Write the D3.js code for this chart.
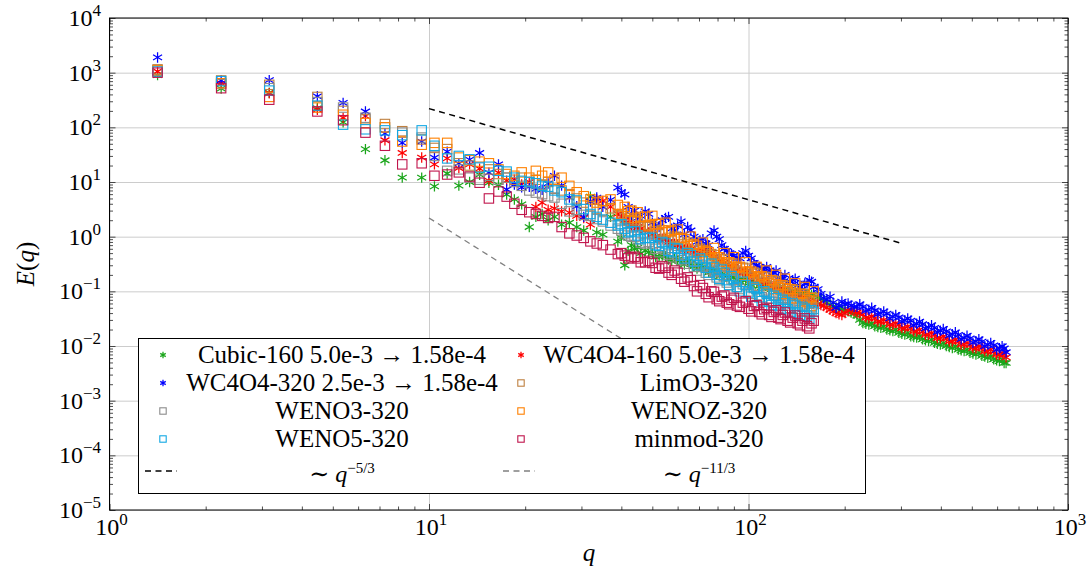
<!DOCTYPE html>
<html>
<head>
<meta charset="utf-8">
<script src="https://cdn.jsdelivr.net/npm/d3@7"></script>
<style>
  body { margin: 0; background: #fff; }
  svg text { font-family: "Liberation Serif", "DejaVu Serif", "Noto Serif", "Times New Roman", Times, serif; fill: #000; }
</style>
</head>
<body>
<svg id="chart" width="1089" height="571"></svg>
<script>
// wavenumber shells
const qLow = [1.414, 2.236, 3.162, 4.472, 5.385, 6.325, 7.28, 8.246, 9.487];
const qMid = [10.4, 11.4, 12.4, 13.4, 14.4, 15.4, 16.5, 17.5, 18.5, 19.5, 20.6, 21.6, 22.6, 23.6, 24.7, 26, 27.5, 29, 30.5, 32, 33.5, 35, 37, 39, 41, 43, 45, 47.5,
  50, 52.5, 55, 57.5, 60, 63, 66, 69, 72, 75, 78, 81, 84, 87, 90, 94, 98, 102, 106, 110, 114, 118, 122, 126, 130, 135, 140, 145, 150, 155, 160];
const qTail = [165, 172, 180, 188, 196, 205, 214, 223, 233, 243, 254, 265, 277, 289, 302, 315, 329, 343, 358, 374, 390, 407, 425, 444, 463, 483, 504, 526, 549, 573, 598, 622, 640];
// interleaved shells of the dense part
const qMid2 = [40, 42, 44, 46, 48.7, 51.2, 53.7, 56.2, 58.7, 61.5, 64.5, 67.5, 70.5, 73.5, 76.5, 79.5, 82.5, 85.5, 88.5, 92,
  96, 100, 104, 108, 112, 116, 120, 124, 128, 132.5, 137.5, 142.5, 147.5, 152.5, 157.5];
const qTail2 = [168.5, 176, 184, 192, 200.5, 209.5, 218.5, 228, 238, 248.5, 259.5, 271, 283, 295.5, 308.5, 322, 336, 350.5, 366, 382,
  398.5, 416, 434.5, 453.5, 473, 493.5, 515, 537.5, 561, 585.5, 610, 631];

// E(q) (on qLow + qMid + qTail, then on qMid2 + qTail2)
const cubic160 = [900, 510, 430, 225, 124, 40, 25, 12, 12,
  8.3, 14.3, 8.6, 10, 13.6, 9.7, 8.9, 5.9, 4.8, 3.9, 1.5, 2.3, 2.6, 2.0, 2.3, 1.66, 1.8, 1.5, 1.3, 5.4, 1.2, 1.09, 2.3, 0.81, 0.3, 0.7, 0.63, 0.55,
  0.5, 0.43, 0.44, 0.36, 0.38, 0.31, 0.32, 0.26, 0.28, 0.22, 0.24, 0.19, 0.2, 0.17, 0.18, 0.15, 0.16, 0.13, 0.145, 0.12, 0.13, 0.11, 0.12, 0.1, 0.108, 0.092, 0.1, 0.086, 0.094, 0.08, 0.086,
  0.078, 0.068, 0.056, 0.05, 0.046, 0.043, 0.039, 0.030, 0.0255, 0.026, 0.0222, 0.0229, 0.0193, 0.0200, 0.0168, 0.0174, 0.0146, 0.0151, 0.0127, 0.0131, 0.0110, 0.0114, 0.0096, 0.0099, 0.0083, 0.0086, 0.0073, 0.0075, 0.0064, 0.0065, 0.0055, 0.0057, 0.0049];
const cubic160b = [0.95, 0.55, 0.6, 0.5, 0.52, 0.43, 0.45, 0.38, 0.4, 0.33, 0.35, 0.29, 0.3, 0.25, 0.26, 0.21, 0.22, 0.185, 0.19, 0.16,
  0.165, 0.14, 0.145, 0.125, 0.13, 0.115, 0.12, 0.105, 0.11, 0.097, 0.1, 0.09, 0.093, 0.084, 0.087,
  0.073, 0.062, 0.053, 0.048, 0.045, 0.041, 0.036, 0.0264, 0.0247, 0.023, 0.0215, 0.02, 0.0187, 0.0174, 0.0162, 0.0151, 0.0142, 0.0132, 0.0123, 0.0114,
  0.0106, 0.01, 0.0092, 0.0086, 0.0081, 0.0075, 0.007, 0.0066, 0.0061, 0.0057, 0.0053, 0.0049];
const wc4o4_160 = [1050, 640, 420, 210, 150, 160, 58, 34, 28,
  21, 27, 18, 21, 17.5, 10.6, 14.8, 10.6, 11, 9, 10, 3.5, 4.2, 3.1, 3.3, 2.9, 2.75, 2.4, 2.2, 1.66, 4.8, 4.5, 3.5, 2.6, 2.0, 1.6, 1.5, 1.3,
  1.1, 0.9, 0.9, 0.72, 0.72, 0.58, 0.6, 0.48, 0.55, 0.53, 0.42, 0.36, 0.34, 0.29, 0.28, 0.23, 0.23, 0.19, 0.19, 0.155, 0.14, 0.125, 0.115, 0.105, 0.095, 0.088, 0.08, 0.074, 0.069, 0.065, 0.06,
  0.058, 0.054, 0.046, 0.04, 0.037, 0.045, 0.043, 0.040, 0.033, 0.035, 0.028, 0.030, 0.0245, 0.0262, 0.0213, 0.0229, 0.0185, 0.0199, 0.0161, 0.0173, 0.0140, 0.0150, 0.0121, 0.0131, 0.0106, 0.0114, 0.0092, 0.0099, 0.0080, 0.0086, 0.0070, 0.0075, 0.0062];
const wc4o4_160b = [2.3, 1.8, 1.55, 1.4, 1.2, 1.0, 0.92, 0.8, 0.74, 0.64, 0.6, 0.52, 0.5, 0.58, 0.5, 0.4, 0.35, 0.31, 0.28, 0.25,
  0.22, 0.2, 0.18, 0.16, 0.145, 0.13, 0.12, 0.108, 0.098, 0.09, 0.082, 0.076, 0.071, 0.067, 0.063,
  0.056, 0.05, 0.043, 0.038, 0.04, 0.046, 0.041, 0.0374, 0.0322, 0.0324, 0.0278, 0.0282, 0.0243, 0.0245, 0.0211, 0.0213, 0.0183, 0.0186, 0.016, 0.0161,
  0.0139, 0.014, 0.0121, 0.0123, 0.0106, 0.0106, 0.0091, 0.0093, 0.008, 0.008, 0.0069, 0.0071];
const wc4o4_320 = [1900, 720, 730, 370, 280, 195, 77, 52, 55,
  28, 36, 22, 25.7, 34, 14.8, 21, 7.3, 9, 8, 8.2, 7.5, 7.2, 9.4, 13, 8.6, 5.2, 3.6, 2.3, 4.4, 5.2, 3.5, 4.7, 7.9, 5.9, 2.5, 2.2, 2.9,
  1.8, 1.5, 2.2, 1.4, 1.6, 1.1, 1.3, 0.8, 0.9, 0.7, 1.3, 0.9, 0.6, 0.5, 0.45, 0.4, 0.55, 0.4, 0.3, 0.26, 0.28, 0.2, 0.24, 0.17, 0.2, 0.15, 0.17, 0.12, 0.14, 0.16, 0.12,
  0.11, 0.075, 0.08, 0.05, 0.065, 0.06, 0.052, 0.058, 0.044, 0.050, 0.038, 0.043, 0.032, 0.037, 0.028, 0.032, 0.024, 0.028, 0.021, 0.024, 0.018, 0.0205, 0.0155, 0.0178, 0.0133, 0.0154, 0.0115, 0.0133, 0.0099, 0.0114, 0.0085, 0.0099, 0.0077];
const wc4o4_320b = [6.5, 3.5, 3.0, 2.4, 2.6, 1.6, 2.0, 2.3, 1.3, 1.9, 1.5, 1.0, 0.85, 0.75, 1.15, 1.0, 0.7, 0.55, 0.48, 0.4,
  0.5, 0.45, 0.33, 0.28, 0.25, 0.24, 0.22, 0.18, 0.17, 0.14, 0.16, 0.13, 0.11, 0.14, 0.15,
  0.09, 0.07, 0.062, 0.055, 0.058, 0.055, 0.052, 0.052, 0.046, 0.045, 0.040, 0.039, 0.0345, 0.0335, 0.0296, 0.029, 0.0255, 0.025, 0.022, 0.0215,
  0.019, 0.0186, 0.0164, 0.016, 0.0141, 0.0138, 0.0122, 0.012, 0.0106, 0.0103, 0.0091, 0.009];
const limo3_320 = [1150, 720, 600, 360, 200, 140, 115, 85, 60,
  42, 40, 22, 20, 19, 17, 14, 12, 11, 12, 10, 11, 9, 10, 7.5, 7, 6, 5, 4.2, 3.6, 3.2, 3.0, 3.3, 2.5, 2.2, 1.9, 1.9, 1.5,
  1.5, 1.1, 1.2, 0.85, 0.95, 0.65, 0.72, 0.5, 0.56, 0.4, 0.46, 0.32, 0.38, 0.27, 0.32, 0.22, 0.26, 0.18, 0.21, 0.15, 0.18, 0.125, 0.15, 0.105, 0.125, 0.088, 0.105, 0.074, 0.088, 0.063, 0.075];
const limo3_320b = [2.4, 2.0, 2.05, 1.6, 1.65, 1.25, 1.3, 0.95, 1.0, 0.72, 0.78, 0.56, 0.6, 0.44, 0.48, 0.35, 0.39, 0.29, 0.32, 0.24,
  0.27, 0.2, 0.22, 0.165, 0.185, 0.14, 0.155, 0.115, 0.13, 0.097, 0.108, 0.082, 0.09, 0.07, 0.077];
const weno3_320 = [1100, 620, 520, 290, 230, 150, 100, 80, 65,
  30, 16, 17, 12, 11, 13, 11, 12, 10, 8.5, 7, 6.4, 6, 5.5, 5.2, 4, 2.9, 3.1, 2.5, 2.4, 2.1, 1.9, 1.6, 1.4, 1.15, 1.0, 0.9, 0.75,
  0.75, 0.52, 0.58, 0.42, 0.46, 0.32, 0.36, 0.24, 0.28, 0.2, 0.23, 0.16, 0.19, 0.13, 0.16, 0.11, 0.13, 0.09, 0.11, 0.078, 0.095, 0.067, 0.082, 0.058, 0.072, 0.05, 0.062, 0.045, 0.055, 0.04, 0.048];
const weno3_320b = [1.3, 1.05, 1.0, 0.78, 0.8, 0.6, 0.64, 0.47, 0.5, 0.37, 0.4, 0.28, 0.31, 0.22, 0.25, 0.18, 0.2, 0.145, 0.165, 0.12,
  0.135, 0.1, 0.115, 0.085, 0.1, 0.073, 0.087, 0.063, 0.076, 0.055, 0.066, 0.048, 0.058, 0.043, 0.051];
const wenoz_320 = [1100, 640, 360, 230, 170, 120, 100, 55, 48,
  52, 52, 28, 25, 23.6, 22, 17, 14, 13, 15, 12, 16, 13, 15, 11, 12, 8.5, 6.5, 5.5, 4.8, 4.2, 4.5, 4.8, 3.8, 3.5, 3.0, 2.8, 2.3,
  2.4, 1.7, 1.8, 1.25, 1.35, 0.9, 1.0, 0.68, 0.78, 0.52, 0.62, 0.42, 0.5, 0.34, 0.42, 0.28, 0.34, 0.23, 0.28, 0.19, 0.24, 0.16, 0.2, 0.13, 0.17, 0.11, 0.14, 0.09, 0.12, 0.075, 0.1];
const wenoz_320b = [2.6, 2.9, 2.2, 2.3, 1.6, 1.7, 1.2, 1.3, 0.9, 0.95, 0.68, 0.72, 0.5, 0.55, 0.4, 0.42, 0.31, 0.34, 0.25, 0.27,
  0.2, 0.22, 0.165, 0.18, 0.135, 0.145, 0.11, 0.12, 0.09, 0.1, 0.075, 0.083, 0.063, 0.068, 0.054];
const weno5_320 = [1050, 700, 470, 250, 112, 92, 88, 72, 88,
  46, 27, 30, 26, 18.4, 19, 16, 15.5, 12, 10.5, 10, 9.5, 8.5, 8.2, 7, 6.5, 4.8, 4.6, 3.2, 2.6, 2.3, 2.05, 1.8, 1.6, 1.4, 1.25, 1.05, 0.95,
  0.95, 0.68, 0.75, 0.52, 0.6, 0.4, 0.46, 0.3, 0.36, 0.22, 0.28, 0.17, 0.22, 0.13, 0.17, 0.1, 0.13, 0.08, 0.11, 0.066, 0.09, 0.056, 0.075, 0.048, 0.064, 0.042, 0.055, 0.037, 0.048, 0.032, 0.042];
const weno5_320b = [1.7, 1.2, 1.25, 0.9, 0.95, 0.7, 0.8, 0.55, 0.62, 0.45, 0.5, 0.35, 0.4, 0.27, 0.32, 0.2, 0.25, 0.16, 0.19, 0.12,
  0.15, 0.095, 0.12, 0.078, 0.1, 0.064, 0.083, 0.055, 0.07, 0.047, 0.06, 0.041, 0.052, 0.036, 0.045];
const minmod_320 = [1000, 520, 320, 195, 135, 80, 46, 21, 22,
  13, 13.7, 15, 12.6, 9.7, 5, 6.7, 5.4, 4, 3.1, 2.8, 2.6, 2.4, 2.2, 2.3, 1.5, 1.15, 1.05, 0.95, 0.82, 0.75, 0.7, 0.58, 0.48, 0.45, 0.42, 0.4, 0.34,
  0.33, 0.26, 0.27, 0.2, 0.22, 0.15, 0.16, 0.1, 0.115, 0.078, 0.098, 0.066, 0.084, 0.058, 0.076, 0.052, 0.066, 0.043, 0.056, 0.038, 0.05, 0.034, 0.045, 0.031, 0.041, 0.027, 0.036, 0.024, 0.032, 0.021, 0.029];
const minmod_320b = [0.5, 0.4, 0.43, 0.34, 0.36, 0.27, 0.29, 0.22, 0.24, 0.17, 0.18, 0.125, 0.13, 0.09, 0.1, 0.072, 0.08, 0.062, 0.07, 0.055,
  0.062, 0.048, 0.054, 0.042, 0.047, 0.037, 0.042, 0.033, 0.037, 0.029, 0.033, 0.026, 0.029, 0.023, 0.026];

// reference slopes: [q, E] end points
const slope53 = [[10, 220], [300, 0.76]];
const slope113 = [[10, 2.2], [200, 3.7e-5]];

const xTickExp = [0, 1, 2, 3];
const yTickExp = [-5, -4, -3, -2, -1, 0, 1, 2, 3, 4];

const qStar = qLow.concat(qMid, qTail), qStarB = qMid2.concat(qTail2);
const qSquare = qLow.concat(qMid), qSquareB = qMid2;

const series = [
  { label: 'Cubic-160 5.0e-3 \u2192 1.58e-4', color: '#1aa51a', mark: 'star', q: [qStar, qStarB], E: [cubic160, cubic160b] },
  { label: 'WC4O4-160 5.0e-3 \u2192 1.58e-4', color: '#ff0000', mark: 'star', q: [qStar, qStarB], E: [wc4o4_160, wc4o4_160b] },
  { label: 'WC4O4-320 2.5e-3 \u2192 1.58e-4', color: '#0000ff', mark: 'star', q: [qStar, qStarB], E: [wc4o4_320, wc4o4_320b] },
  { label: 'LimO3-320', color: '#bf8040', mark: 'square', q: [qSquare, qSquareB], E: [limo3_320, limo3_320b] },
  { label: 'WENO3-320', color: '#8c8c8c', mark: 'square', q: [qSquare, qSquareB], E: [weno3_320, weno3_320b] },
  { label: 'WENOZ-320', color: '#ff8000', mark: 'square', q: [qSquare, qSquareB], E: [wenoz_320, wenoz_320b] },
  { label: 'WENO5-320', color: '#12a8e4', mark: 'square', q: [qSquare, qSquareB], E: [weno5_320, weno5_320b] },
  { label: 'minmod-320', color: '#c0144c', mark: 'square', q: [qSquare, qSquareB], E: [minmod_320, minmod_320b] },
];

const svg = d3.select('#chart');
const pL = 109.5, pR = 1068, pT = 18, pB = 510;

const x = d3.scaleLog().domain([1, 1000]).range([pL, pR]);
const y = d3.scaleLog().domain([1e-5, 1e4]).range([pB, pT]);

const minorX = [], minorY = [];
for (let e = 0; e < 3; e++) for (let k = 2; k < 10; k++) minorX.push(k * Math.pow(10, e));
for (let e = -5; e < 4; e++) for (let k = 2; k < 10; k++) minorY.push(k * Math.pow(10, e));
const majorX = xTickExp.map(e => Math.pow(10, e));
const majorY = yTickExp.map(e => Math.pow(10, e));

// grid
svg.append('g')
  .attr('transform', `translate(0,${pB})`)
  .call(d3.axisBottom(x).tickValues(majorX).tickSize(-(pB - pT)).tickFormat(''))
  .call(g => g.select('.domain').remove())
  .call(g => g.selectAll('line').attr('stroke', '#cccccc').attr('stroke-width', 1));
svg.append('g')
  .attr('transform', `translate(${pL},0)`)
  .call(d3.axisLeft(y).tickValues(majorY).tickSize(-(pR - pL)).tickFormat(''))
  .call(g => g.select('.domain').remove())
  .call(g => g.selectAll('line').attr('stroke', '#cccccc').attr('stroke-width', 1));

// reference slopes
const line = d3.line().x(d => x(d[0])).y(d => y(d[1]));
svg.append('path').datum(slope53).attr('d', line)
  .attr('fill', 'none').attr('stroke', '#000').attr('stroke-width', 1.5).attr('stroke-dasharray', '6,4.5');
svg.append('path').datum(slope113).attr('d', line)
  .attr('fill', 'none').attr('stroke', '#808080').attr('stroke-width', 1.3).attr('stroke-dasharray', '6,4.5');

// markers
const c30 = Math.cos(Math.PI / 6), s30 = 0.5;
function starPath(r) {
  return `M0,${-r}L0,${r}M${-r * c30},${-r * s30}L${r * c30},${r * s30}M${-r * c30},${r * s30}L${r * c30},${-r * s30}`;
}
function drawMark(g, mark, color, r) {
  if (mark === 'star') {
    g.append('path').attr('d', starPath(r)).attr('stroke', color).attr('stroke-width', 1.25).attr('fill', 'none');
  } else {
    g.append('rect').attr('x', -r).attr('y', -r).attr('width', 2 * r).attr('height', 2 * r)
      .attr('stroke', color).attr('stroke-width', 1.1).attr('fill', 'none');
  }
}

series.forEach(s => {
  const pts = [];
  s.E.forEach((arr, k) => arr.forEach((e, i) => pts.push([s.q[k][i], e])));
  pts.sort((a, b) => a[0] - b[0]);
  const r = s.mark === 'star' ? 5.2 : 4.7;
  const g = svg.append('g');
  g.selectAll('g.pt').data(pts).enter().append('g')
    .attr('class', 'pt')
    .attr('transform', d => `translate(${x(d[0])},${y(d[1])})`)
    .each(function () { drawMark(d3.select(this), s.mark, s.color, r); });
});

// ticks (inside) on all four sides
function tickStyle(g) {
  g.select('.domain').remove();
  g.selectAll('line').attr('stroke', '#222').attr('stroke-width', 0.8);
}
[[d3.axisBottom, pB], [d3.axisTop, pT]].forEach(([ax, pos]) => {
  svg.append('g').attr('transform', `translate(0,${pos})`)
    .call(ax(x).tickValues(majorX).tickSize(-6).tickFormat('')).call(tickStyle);
  svg.append('g').attr('transform', `translate(0,${pos})`)
    .call(ax(x).tickValues(minorX).tickSize(-3.5).tickFormat('')).call(tickStyle);
});
[[d3.axisLeft, pL], [d3.axisRight, pR]].forEach(([ax, pos]) => {
  svg.append('g').attr('transform', `translate(${pos},0)`)
    .call(ax(y).tickValues(majorY).tickSize(-6).tickFormat('')).call(tickStyle);
  svg.append('g').attr('transform', `translate(${pos},0)`)
    .call(ax(y).tickValues(minorY).tickSize(-3.5).tickFormat('')).call(tickStyle);
});

svg.append('rect').attr('x', pL).attr('y', pT).attr('width', pR - pL).attr('height', pB - pT)
  .attr('fill', 'none').attr('stroke', '#000').attr('stroke-width', 1);

// tick labels
function powLabel(sel, e) {
  sel.append('tspan').text('10');
  sel.append('tspan').attr('dy', -10).attr('font-size', 17).text(e < 0 ? '\u2212' + (-e) : String(e));
}
xTickExp.forEach(e => {
  svg.append('text').attr('x', x(Math.pow(10, e)) + 2).attr('y', 535)
    .attr('text-anchor', 'middle').attr('font-size', 24).call(powLabel, e);
});
yTickExp.forEach(e => {
  svg.append('text').attr('x', 101).attr('y', y(Math.pow(10, e)) + 8)
    .attr('text-anchor', 'end').attr('font-size', 24).call(powLabel, e);
});

// axis labels
svg.append('text').attr('x', 589).attr('y', 561).attr('text-anchor', 'middle')
  .attr('font-size', 25).attr('font-style', 'italic').text('q');
const yl = svg.append('text').attr('transform', 'translate(34,264) rotate(-90)')
  .attr('text-anchor', 'middle').attr('font-size', 25);
yl.append('tspan').attr('font-style', 'italic').text('E');
yl.append('tspan').text('(');
yl.append('tspan').attr('font-style', 'italic').text('q');
yl.append('tspan').text(')');

// legend
const lg = svg.append('g');
lg.append('rect').attr('x', 138.5).attr('y', 338.5).attr('width', 727).attr('height', 155)
  .attr('fill', '#fff').attr('stroke', '#000').attr('stroke-width', 1);
const rowY = [355, 383, 411, 439, 472];
const colMark = [163, 521], colText = [342, 699];
const legendItems = series.map(s => ({ type: s.mark, color: s.color, label: s.label }));
legendItems.push({ type: 'dash', color: '#000', label: 'q53' });
legendItems.push({ type: 'dash', color: '#808080', label: 'q113' });
legendItems.forEach((it, i) => {
  const col = i % 2, row = Math.floor(i / 2);
  const cy = rowY[row];
  if (it.type === 'dash') {
    lg.append('line').attr('x1', colMark[col] - 18).attr('x2', colMark[col] + 14)
      .attr('y1', cy - 1).attr('y2', cy - 1)
      .attr('stroke', it.color).attr('stroke-width', 1.5).attr('stroke-dasharray', '6,4.5');
  } else {
    const g = lg.append('g').attr('transform', `translate(${colMark[col]},${cy})`);
    drawMark(g, it.type, it.color, 3.2);
  }
  const isSlope = it.label === 'q53' || it.label === 'q113';
  const t = lg.append('text').attr('x', colText[col]).attr('y', cy + (isSlope ? 10 : 8))
    .attr('text-anchor', 'middle').attr('font-size', isSlope ? 24 : 25);
  if (isSlope) {
    t.append('tspan').text('\u223C ');
    t.append('tspan').attr('font-style', 'italic').text('q');
    t.append('tspan').attr('dy', -9).attr('font-size', 15)
      .text(it.label === 'q53' ? '\u22125/3' : '\u221211/3');
  } else {
    t.text(it.label);
  }
});
</script>
</body>
</html>
